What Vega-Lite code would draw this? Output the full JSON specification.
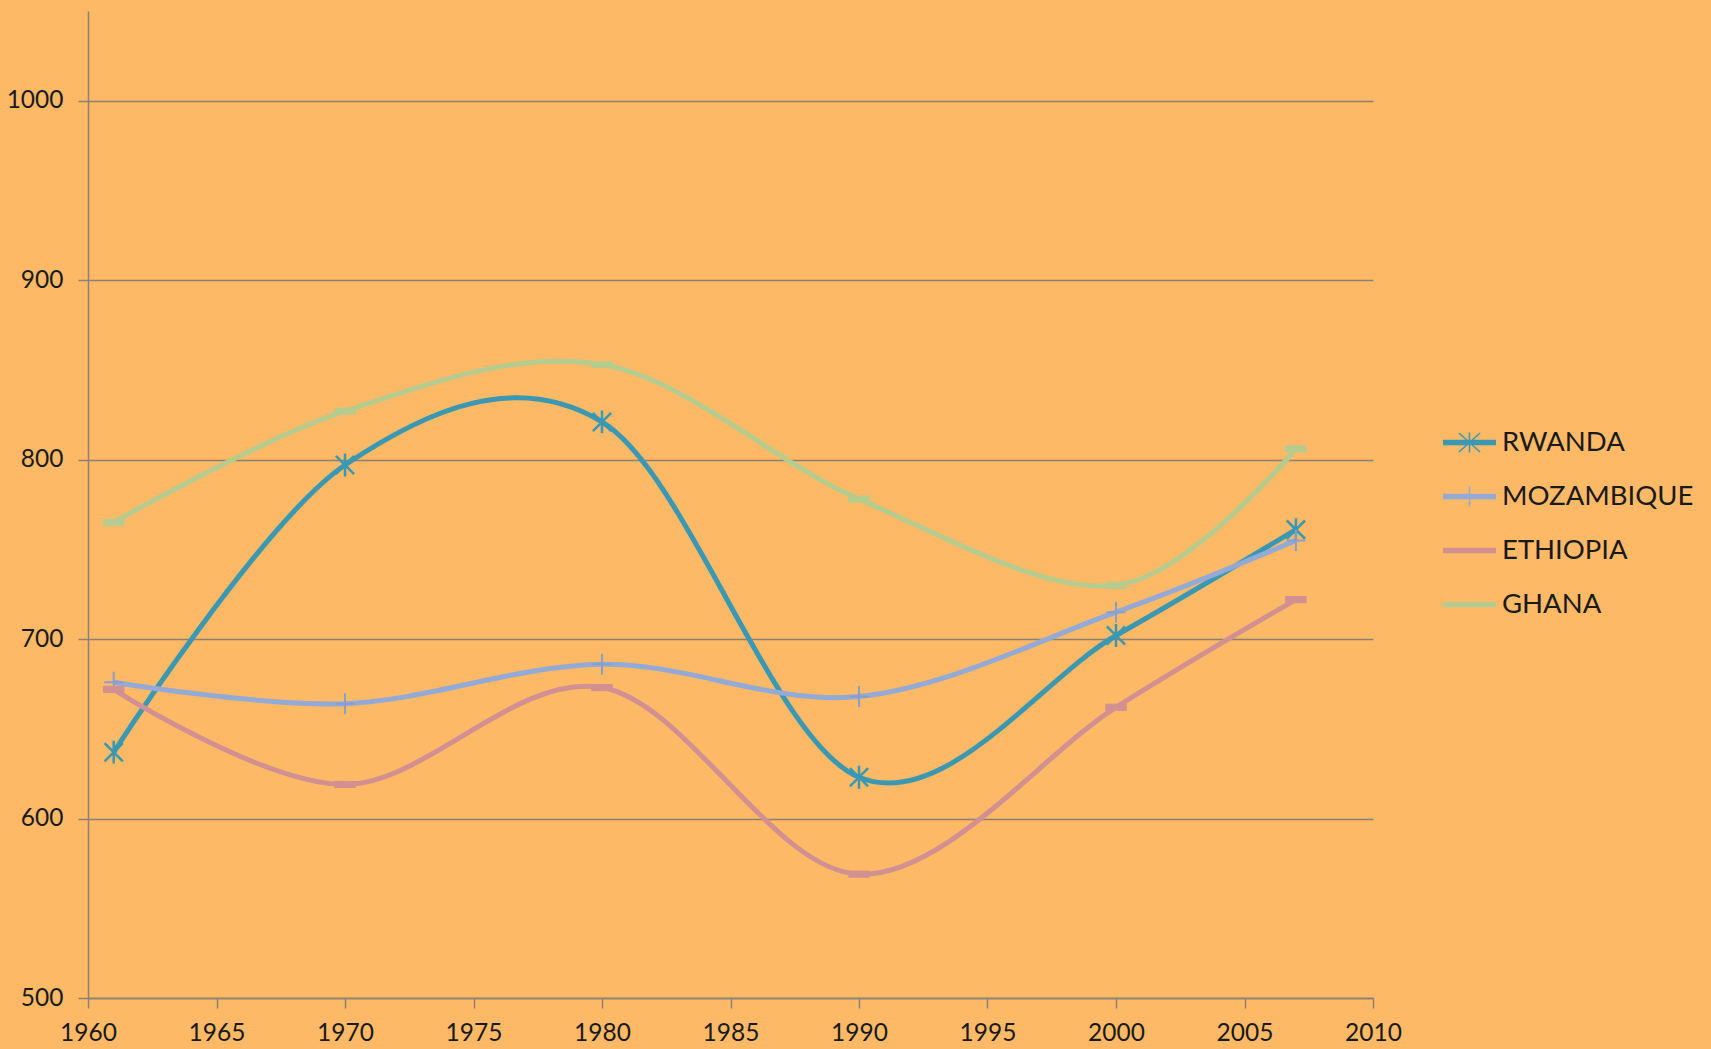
{
  "$schema": "https://vega.github.io/schema/vega-lite/v6.json",
  "autosize": {"type": "none"},
  "width": 1285,
  "height": 987,
  "padding": {"left": 88, "top": 11, "right": 338, "bottom": 51},
  "background": "#FEB967",
  "config": {
    "view": {"stroke": null},
    "font": "Lato",
    "axis": {
      "labelFont": "Lato",
      "labelFontSize": 24.5,
      "labelColor": "#1a1a1a",
      "domainColor": "#8C8070",
      "tickColor": "#8C8070",
      "gridColor": "#8C8070",
      "domainWidth": 1.5,
      "tickWidth": 1.5,
      "gridWidth": 1.3,
      "tickSize": 10,
      "title": null
    }
  },
  "data": {
    "values": [
      {"country": "RWANDA", "year": 1961, "value": 637},
      {"country": "RWANDA", "year": 1970, "value": 797},
      {"country": "RWANDA", "year": 1980, "value": 821},
      {"country": "RWANDA", "year": 1990, "value": 623},
      {"country": "RWANDA", "year": 2000, "value": 702},
      {"country": "RWANDA", "year": 2007, "value": 761},
      {"country": "MOZAMBIQUE", "year": 1961, "value": 676},
      {"country": "MOZAMBIQUE", "year": 1970, "value": 664},
      {"country": "MOZAMBIQUE", "year": 1980, "value": 686},
      {"country": "MOZAMBIQUE", "year": 1990, "value": 668},
      {"country": "MOZAMBIQUE", "year": 2000, "value": 715},
      {"country": "MOZAMBIQUE", "year": 2007, "value": 755},
      {"country": "ETHIOPIA", "year": 1961, "value": 672},
      {"country": "ETHIOPIA", "year": 1970, "value": 619},
      {"country": "ETHIOPIA", "year": 1980, "value": 673},
      {"country": "ETHIOPIA", "year": 1990, "value": 569},
      {"country": "ETHIOPIA", "year": 2000, "value": 662},
      {"country": "ETHIOPIA", "year": 2007, "value": 722},
      {"country": "GHANA", "year": 1961, "value": 765},
      {"country": "GHANA", "year": 1970, "value": 827},
      {"country": "GHANA", "year": 1980, "value": 853},
      {"country": "GHANA", "year": 1990, "value": 778},
      {"country": "GHANA", "year": 2000, "value": 730},
      {"country": "GHANA", "year": 2007, "value": 806}
    ]
  },
  "encoding": {
    "x": {
      "field": "year",
      "type": "quantitative",
      "scale": {"domain": [1960, 2010], "nice": false, "zero": false},
      "axis": {"values": [1960, 1965, 1970, 1975, 1980, 1985, 1990, 1995, 2000, 2005, 2010], "format": "d", "grid": false, "labelPadding": 13, "labelFlush": false}
    },
    "y": {
      "field": "value",
      "type": "quantitative",
      "scale": {"domain": [500, 1050], "nice": false, "zero": false},
      "axis": {"values": [500, 600, 700, 800, 900, 1000], "format": "d", "grid": true, "labelPadding": 15}
    }
  },
  "layer": [
    {
      "mark": {"type": "line", "interpolate": "cardinal", "strokeWidth": 5},
      "encoding": {
        "color": {
          "field": "country",
          "type": "nominal",
          "scale": {
            "domain": ["RWANDA", "MOZAMBIQUE", "ETHIOPIA", "GHANA"],
            "range": ["#3A98B2", "#93A9D6", "#D39090", "#B6CC8E"]
          },
          "legend": {
            "title": null,
            "orient": "none",
            "legendX": 1354,
            "legendY": 404,
            "padding": 0,
            "symbolSize": 2809,
            "symbolStrokeWidth": 1.5,
            "symbolOpacity": 1,
            "rowPadding": 13,
            "labelFont": "Lato",
            "labelFontSize": 27.5,
            "labelColor": "#1a1a1a",
            "labelOffset": 5,
            "labelLimit": 400
          }
        }
      }
    },
    {
      "mark": {"type": "point", "filled": true, "opacity": 0, "size": 10},
      "encoding": {
        "color": {"field": "country", "type": "nominal"},
        "shape": {
          "field": "country",
          "type": "nominal",
          "scale": {
            "domain": ["RWANDA", "MOZAMBIQUE", "ETHIOPIA", "GHANA"],
            "range": [
              "M-1,-0.075L1,-0.075M-1,-0.0375L1,-0.0375M-1,0L1,0M-1,0.0375L1,0.0375M-1,0.075L1,0.075M-0.4,-0.36L0.4,0.36M-0.4,0.36L0.4,-0.36M0,-0.38L0,0.38",
              "M-1,-0.075L1,-0.075M-1,-0.0375L1,-0.0375M-1,0L1,0M-1,0.0375L1,0.0375M-1,0.075L1,0.075M0,-0.38L0,0.38",
              "M-1,-0.075L1,-0.075M-1,-0.0375L1,-0.0375M-1,0L1,0M-1,0.0375L1,0.0375M-1,0.075L1,0.075",
              "M-1,-0.075L1,-0.075M-1,-0.0375L1,-0.0375M-1,0L1,0M-1,0.0375L1,0.0375M-1,0.075L1,0.075"
            ]
          }
        }
      }
    },
    {
      "transform": [{"filter": "datum.country === 'RWANDA'"}],
      "mark": {"type": "point", "filled": false, "opacity": 1, "size": 520, "strokeWidth": 2.5, "color": "#3A98B2", "shape": "M-0.8,-0.8L0.8,0.8M-0.8,0.8L0.8,-0.8M0,-1L0,1"}
    },
    {
      "transform": [{"filter": "datum.country === 'MOZAMBIQUE'"}],
      "mark": {"type": "point", "filled": false, "opacity": 1, "size": 440, "strokeWidth": 2, "color": "#889FCC", "shape": "M-0.9,0L0.9,0M0,-1L0,1"}
    },
    {
      "transform": [{"filter": "datum.country === 'ETHIOPIA'"}],
      "mark": {"type": "point", "filled": true, "opacity": 1, "size": 420, "strokeWidth": 1, "color": "#D39090", "stroke": "#D39090", "shape": "M-1,-0.3L1,-0.3L1,0.3L-1,0.3Z"}
    },
    {
      "transform": [{"filter": "datum.country === 'GHANA'"}],
      "mark": {"type": "point", "filled": true, "opacity": 1, "size": 420, "strokeWidth": 1, "color": "#B6CC8E", "stroke": "#B6CC8E", "shape": "M-1,-0.3L1,-0.3L1,0.3L-1,0.3Z"}
    }
  ]
}
